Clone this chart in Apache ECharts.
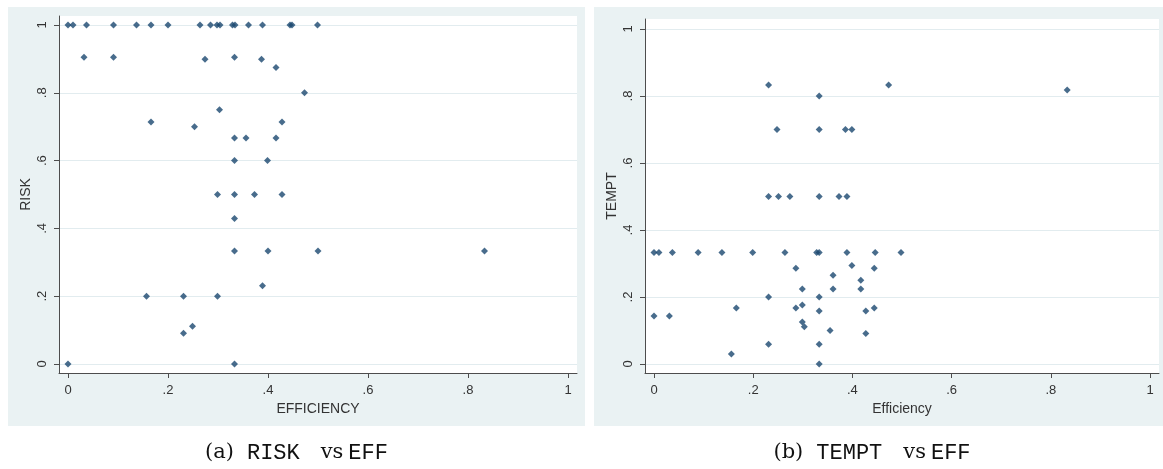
<!DOCTYPE html>
<html>
<head>
<meta charset="utf-8">
<script src="https://cdn.jsdelivr.net/npm/echarts@6/dist/echarts.min.js"></script>
<style>
html,body{margin:0;padding:0;background:#fff;}
#c{width:1163px;height:469px;}
</style>
</head>
<body>
<div id="c"></div>
<script>
// ---- data ----
var tickValues = [0, 0.2, 0.4, 0.6, 0.8, 1];
var tickLabels = ['0', '.2', '.4', '.6', '.8', '1'];

// Panel (a): RISK vs EFFICIENCY
var effA = [
  0, 0.01, 0.037, 0.091, 0.137, 0.166, 0.2, 0.264, 0.285, 0.298, 0.304, 0.329, 0.334, 0.361, 0.389, 0.444, 0.448, 0.499,
  0.032, 0.091, 0.333, 0.274, 0.387, 0.416, 0.473, 0.303, 0.166, 0.428, 0.253,
  0.333, 0.356, 0.416, 0.333, 0.399, 0.299, 0.333, 0.373, 0.428, 0.333,
  0.333, 0.4, 0.5, 0.833, 0.389, 0.157, 0.231, 0.299, 0.249, 0.231, 0, 0.333
];
var riskA = [
  1, 1, 1, 1, 1, 1, 1, 1, 1, 1, 1, 1, 1, 1, 1, 1, 1, 1,
  0.905, 0.905, 0.905, 0.899, 0.899, 0.875, 0.8, 0.75, 0.714, 0.714, 0.7,
  0.667, 0.667, 0.667, 0.6, 0.6, 0.5, 0.5, 0.5, 0.5, 0.429,
  0.333, 0.333, 0.333, 0.333, 0.231, 0.2, 0.2, 0.2, 0.111, 0.091, 0, 0
];

// Panel (b): TEMPT vs Efficiency
var effB = [
  0.231, 0.473, 0.833, 0.333, 0.248, 0.333, 0.386, 0.399,
  0.231, 0.251, 0.274, 0.333, 0.373, 0.389,
  0, 0.01, 0.037, 0.089, 0.137, 0.199, 0.264, 0.328, 0.333, 0.389, 0.446, 0.498,
  0.399, 0.286, 0.444, 0.361, 0.417, 0.299, 0.361, 0.417, 0.231, 0.333, 0.299,
  0.166, 0.286, 0.444, 0.333, 0.427, 0, 0.031, 0.299, 0.303, 0.355, 0.427,
  0.231, 0.333, 0.156, 0.333
];
var temptB = [
  0.833, 0.833, 0.818, 0.8, 0.7, 0.7, 0.7, 0.7,
  0.5, 0.5, 0.5, 0.5, 0.5, 0.5,
  0.333, 0.333, 0.333, 0.333, 0.333, 0.333, 0.333, 0.333, 0.333, 0.333, 0.333, 0.333,
  0.294, 0.286, 0.286, 0.265, 0.25, 0.224, 0.224, 0.224, 0.2, 0.2, 0.176,
  0.167, 0.167, 0.167, 0.158, 0.158, 0.143, 0.143, 0.125, 0.111, 0.1, 0.091,
  0.059, 0.059, 0.03, 0
];

var xTitleA = 'EFFICIENCY', yTitleA = 'RISK';
var xTitleB = 'Efficiency', yTitleB = 'TEMPT';
var captionA = ['(a)', 'RISK', 'vs', 'EFF'];
var captionB = ['(b)', 'TEMPT', 'vs', 'EFF'];

function pairs(xs, ys) { return xs.map(function (x, i) { return [x, ys[i]]; }); }

// ---- style ----
var BG = '#eaf2f3';
var NAVY = '#1a476f';
var AXIS = '#4d4d4d';
var TXT = '#333333';
var FONT = 'Liberation Sans, Arial, sans-serif';

function fmt(v) {
  var i = tickValues.indexOf(Math.round(v * 1000) / 1000);
  return i >= 0 ? tickLabels[i] : '';
}

function xAxisCfg(idx, name, min, max) {
  return {
    type: 'value', gridIndex: idx, min: min, max: max,
    name: name, nameLocation: 'middle', nameGap: 26,
    nameTextStyle: { color: TXT, fontSize: 14, fontFamily: FONT },
    axisLine: { show: true, onZero: false, lineStyle: { color: AXIS, width: 1 } },
    axisTick: { show: true, length: 5, customValues: tickValues, lineStyle: { color: AXIS } },
    axisLabel: { customValues: tickValues, formatter: fmt, margin: 11, color: TXT, fontSize: 13, fontFamily: FONT },
    splitLine: { show: false }
  };
}
function yAxisCfg(idx, name, min, max) {
  return {
    type: 'value', gridIndex: idx, min: min, max: max,
    name: name, nameLocation: 'middle', nameGap: 26, nameRotate: 90,
    nameTextStyle: { color: TXT, fontSize: 14, fontFamily: FONT },
    axisLine: { show: true, onZero: false, lineStyle: { color: AXIS, width: 1 } },
    axisTick: { show: true, length: 5, customValues: tickValues, lineStyle: { color: AXIS } },
    axisLabel: { customValues: tickValues, formatter: fmt, rotate: 90, margin: 10, color: TXT, fontSize: 13, fontFamily: FONT },
    splitLine: { show: true, lineStyle: { color: '#e2ecef', width: 1 } }
  };
}

var capRich = {
  a: { fontFamily: 'DejaVu Serif, serif', fontSize: 21, fill: '#111' },
  r: { fontFamily: 'Liberation Mono, monospace', fontSize: 22, fill: '#111', padding: [0, 21, 0, 13] },
  v: { fontFamily: 'DejaVu Serif, serif', fontSize: 21, fill: '#111' },
  e: { fontFamily: 'Liberation Mono, monospace', fontSize: 22, fill: '#111', padding: [0, 0, 0, 5] }
};
function capText(c) { return '{a|' + c[0] + '}{r|' + c[1] + '}{v|' + c[2] + '}{e|' + c[3] + '}'; }

var chart = echarts.init(document.getElementById('c'), null, { renderer: 'canvas' });
chart.setOption({
  animation: false,
  backgroundColor: '#ffffff',
  graphic: [
    { type: 'rect', z: -10, shape: { x: 8, y: 7, width: 577, height: 419 }, style: { fill: BG } },
    { type: 'rect', z: -10, shape: { x: 594, y: 7, width: 569, height: 419 }, style: { fill: BG } },
    { type: 'text', x: 296.5, y: 453,
      style: { text: capText(captionA), align: 'center', verticalAlign: 'middle', rich: capRich } },
    { type: 'text', x: 872, y: 453,
      style: { text: capText(captionB), align: 'center', verticalAlign: 'middle', rich: capRich } }
  ],
  grid: [
    { left: 59, top: 16, width: 518, height: 357, show: true, backgroundColor: '#ffffff', borderWidth: 0 },
    { left: 645, top: 19, width: 514, height: 354, show: true, backgroundColor: '#ffffff', borderWidth: 0 }
  ],
  xAxis: [
    xAxisCfg(0, xTitleA, -0.018, 1.018),
    xAxisCfg(1, xTitleB, -0.01815, 1.01815)
  ],
  yAxis: [
    yAxisCfg(0, yTitleA, -0.02655, 1.02655),
    yAxisCfg(1, yTitleB, -0.0269, 1.02985)
  ],
  series: [
    { type: 'scatter', xAxisIndex: 0, yAxisIndex: 0, symbol: 'diamond', symbolSize: 7,
      itemStyle: { color: NAVY }, data: pairs(effA, riskA) },
    { type: 'scatter', xAxisIndex: 1, yAxisIndex: 1, symbol: 'diamond', symbolSize: 7,
      itemStyle: { color: NAVY }, data: pairs(effB, temptB) }
  ]
});
</script>
</body>
</html>
